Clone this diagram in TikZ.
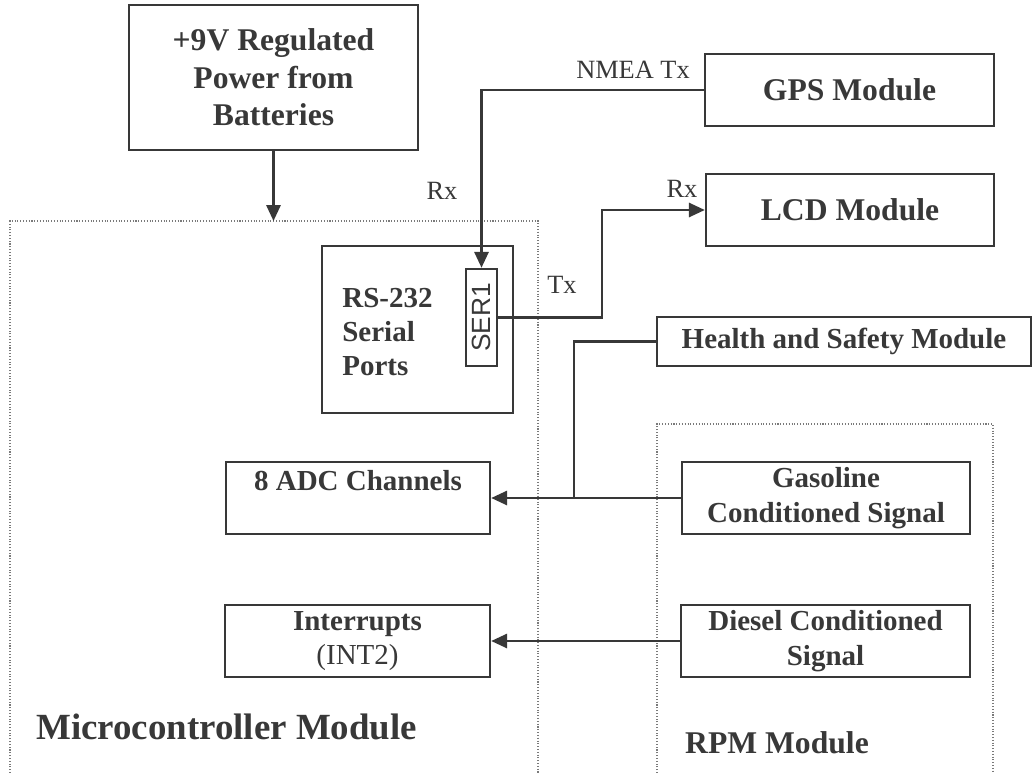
\documentclass[tikz,border=0pt]{standalone}
\usepackage{graphicx}
\usepackage{fontspec}
\setmainfont{Liberation Serif}
\setsansfont{Liberation Sans}
\usetikzlibrary{arrows.meta}
\definecolor{ink}{HTML}{383838}
\definecolor{dots}{HTML}{7A7A7A}

\begin{document}
\begin{tikzpicture}[x=0.02cm, y=-0.02cm, color=ink]
    \tikzset{
      box/.style={draw, line width=1.4pt, inner sep=0pt, align=center,
                  font=\fontsize{16.5}{19.6}\selectfont\bfseries},
      bigbox/.style={box, font=\fontsize{18}{21.3}\selectfont\bfseries},
      boldtxt/.style={inner sep=0pt, font=\fontsize{16.5}{19.6}\selectfont\bfseries},
      lbl/.style={font=\fontsize{15}{18}\selectfont},
      wire/.style={line width=1.4pt},
      arr/.style={wire, -{Triangle[length=9pt, width=8pt]}},
      frame/.style={densely dotted, line width=0.6pt, dots},
    }
    \useasboundingbox (0,0) rectangle (1034,773);

    \coordinate (mcu) at (10,221);
    \coordinate (rpm) at (657,424);
    \draw[frame] (10,773) -- (mcu) -- (538,221) -- (538,773);
    \draw[frame] (657,773) -- (rpm) -- (993,424) -- (993,773);

    \node[bigbox, minimum width=5.78cm, minimum height=2.9cm] (power) at (273.5,77.5)
      {+9V Regulated\\Power from\\Batteries};
    \node[bigbox, minimum width=5.78cm, minimum height=1.44cm] (gps) at (849.5,90) {GPS Module};
    \node[bigbox, minimum width=5.76cm, minimum height=1.44cm] (lcd) at (850,210) {LCD Module};
    \node[box, minimum width=3.82cm, minimum height=3.34cm] (ports) at (417.5,329.5) {};
    \node[boldtxt, anchor=west, align=left] (portstxt) at (342,332) {RS-232\\Serial\\Ports};
    \node[draw, line width=1.4pt, inner sep=0pt, minimum width=0.62cm, minimum height=1.94cm,
          font=\fontsize{15}{18}\selectfont\sffamily] (ser) at (481.5,317.5) {\rotatebox{90}{SER1}};
    \node[box, minimum width=7.48cm, minimum height=0.98cm] (health) at (844,341.5)
      {Health and Safety Module};
    \node[box, minimum width=5.28cm, minimum height=1.44cm] (adc) at (358,498) {8 ADC Channels\\~};
    \node[box, minimum width=5.76cm, minimum height=1.44cm] (gas) at (826,498)
      {Gasoline\\Conditioned Signal};
    \node[box, minimum width=5.3cm, minimum height=1.44cm] (intr) at (357.5,641)
      {Interrupts\\\mdseries(INT2)};
    \node[box, minimum width=5.78cm, minimum height=1.44cm] (diesel) at (825.5,641)
      {Diesel Conditioned\\Signal};

    \node[lbl] (nmea) at (633,70) {NMEA Tx};
    \node[lbl] (rxser) at (442,191) {Rx};
    \node[lbl] (txser) at (562,285) {Tx};
    \node[lbl] (rxlcd) at (682,189) {Rx};

    \node[anchor=west, font=\fontsize{21}{25}\selectfont\bfseries] (mcuname) at (30,727)
      {Microcontroller Module};
    \node[anchor=west, font=\fontsize{18}{21}\selectfont\bfseries] (rpmname) at (679,743)
      {RPM Module};

    \coordinate (tap) at (574,498);
    \draw[arr] (power.south) -- (power.south |- mcu);
    \draw[arr] (gps.west) -| (ser.north);
    \draw[arr] (ser.east) -- ++(104,0) |- (lcd.west);
    \draw[wire] (health.west) -| (tap);
    \draw[arr] (gas.west) -- (adc.east);
    \draw[arr] (diesel.west) -- (intr.east);
  \end{tikzpicture}
\end{document}
